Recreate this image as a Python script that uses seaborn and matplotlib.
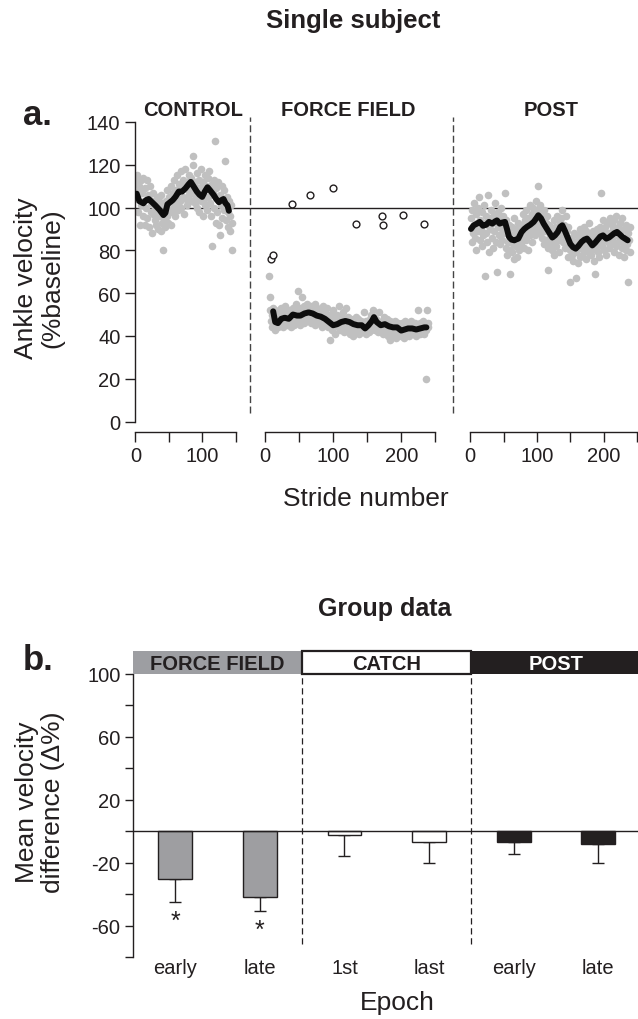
import numpy as np
import pandas as pd
import seaborn as sns
import matplotlib.pyplot as plt
from matplotlib.patches import Rectangle
from matplotlib.transforms import blended_transform_factory

# ---- panel a: single subject, ankle velocity (% baseline) per stride ----
ctrl_gray = [112, 104, 115, 98, 108, 110, 92, 113, 101, 107, 96, 114, 103, 92, 109,
             100, 113, 95, 106, 91, 104, 110, 98, 102, 88, 107, 97, 103, 94, 100,
             92, 105, 99, 90, 103, 96, 101, 89, 106, 93, 98, 80, 95, 101, 91,
             103, 96, 108, 93, 100, 105, 98, 110, 92, 104, 107, 99, 113, 101, 96,
             108, 102, 115, 99, 106, 111, 103, 117, 100, 109, 105, 113, 97, 110, 118,
             104, 112, 101, 108, 115, 106, 110, 103, 114, 107, 120, 124, 109, 102, 112,
             105, 116, 100, 109, 113, 98, 107, 118, 103, 110, 96, 112, 104, 115, 101,
             110, 99, 114, 105, 117, 102, 108, 96, 111, 82, 107, 113, 100, 131, 93,
             109, 98, 104, 112, 92, 106, 87, 101, 110, 95, 103, 99, 108, 122, 94,
             100, 105, 91, 98, 103, 96, 89, 101, 80, 93]
ctrl_start = 1
ctrl_avg_x = [2, 6, 12, 16, 20, 25, 30, 36, 42, 45, 48, 52, 56, 60, 65, 70, 75, 80, 83, 87,
              92, 96, 100, 104, 108, 112, 117, 121, 125, 129, 132, 135, 138, 140]
ctrl_avg_y = [106.5, 103, 102, 103.5, 104, 102.5, 101, 99, 96.5, 97.5, 101.5, 102.5, 103.5, 105,
              107.5, 107.5, 109, 111, 112, 110, 107.5, 106, 105, 107.5, 109.5, 108, 106, 104,
              102.5, 103.5, 104, 102, 101, 98.5]

ff_gray = [68, 58, 52, 47, 44, 50, 53, 45, 48, 43, 51, 46, 49, 44, 52,
           47, 50, 45, 53, 48, 44, 51, 46, 49, 54, 47, 45, 50, 48, 52,
           46, 49, 44, 51, 47, 53, 45, 50, 48, 55, 46, 52, 49, 61, 47,
           51, 45, 53, 58, 48, 50, 46, 54, 49, 52, 47, 55, 50, 48, 53,
           51, 46, 54, 49, 52, 47, 50, 55, 45, 51, 48, 53, 46, 50, 49,
           52, 46, 50, 44, 54, 48, 47, 51, 45, 49, 53, 44, 48, 46, 38,
           50, 45, 47, 43, 52, 46, 49, 41, 48, 45, 50, 44, 47, 54, 43,
           46, 49, 44, 51, 47, 42, 48, 45, 53, 46, 43, 49, 45, 47, 41,
           48, 44, 46, 40, 47, 43, 45, 49, 42, 46, 44, 48, 41, 45, 43,
           47, 42, 46, 44, 51, 43, 45, 41, 47, 44, 46, 42, 45, 48, 43,
           50, 47, 52, 45, 49, 46, 43, 48, 44, 47, 42, 46, 51, 44, 45,
           43, 47, 41, 45, 49, 42, 46, 44, 48, 40, 45, 43, 47, 38, 44,
           42, 46, 40, 45, 43, 47, 39, 44, 42, 46, 41, 45, 43, 40, 44,
           46, 42, 45, 39, 44, 47, 41, 43, 45, 42, 46, 40, 44, 43, 47,
           42, 45, 41, 44, 46, 43, 40, 45, 42, 52, 44, 41, 46, 43, 45,
           42, 47, 44, 41, 45, 43, 20, 52, 44, 46]
ff_start = 6
ff_avg_x = [12, 15, 19, 24, 29, 35, 41, 47, 52, 58, 64, 70, 76, 82, 88, 94, 100, 106, 112, 118,
            124, 130, 136, 142, 147, 152, 157, 160, 164, 170, 176, 182, 188, 194, 200, 205,
            210, 216, 222, 228, 234, 237]
ff_avg_y = [51.5, 46.5, 46, 48, 48.5, 48, 50, 49.5, 49.5, 50.5, 51, 50.5, 49.5, 49, 48, 46.5,
            45, 45.5, 46.5, 47, 46.5, 45.5, 45, 45, 43.5, 45, 47, 48.8, 46.5, 45, 45.5, 44.5,
            44, 44, 42.5, 43, 43.5, 43.5, 43, 43.5, 44, 44]
catch_x = [9, 12, 39, 66, 100, 134, 172, 173, 203, 233]
catch_y = [76, 78, 101.5, 106, 109, 92.5, 96, 91.7, 96.7, 92.5]

post_gray = [95, 84, 99, 88, 102, 91, 86, 97, 80, 93, 89, 100, 105, 85, 94,
             90, 82, 98, 87, 101, 93, 68, 88, 96, 84, 92, 106, 79, 95, 90,
             99, 86, 93, 81, 97, 89, 102, 84, 94, 70, 91, 98, 87, 95, 83,
             100, 90, 85, 96, 92, 88, 107, 81, 94, 78, 89, 84, 92, 80, 69,
             87, 79, 91, 83, 95, 76, 88, 82, 90, 77, 86, 93, 80, 85, 89,
             83, 92, 86, 97, 81, 90, 94, 85, 99, 88, 80, 95, 91, 87, 101,
             89, 97, 84, 100, 92, 98, 87, 103, 95, 90, 99, 110, 93, 88, 101,
             91, 97, 86, 95, 83, 99, 89, 93, 85, 96, 81, 71, 92, 87, 84,
             90, 80, 88, 83, 94, 78, 91, 86, 82, 96, 85, 89, 79, 93, 87,
             95, 88, 99, 84, 92, 87, 81, 96, 83, 89, 77, 91, 85, 80, 65,
             86, 78, 84, 75, 88, 80, 83, 67, 79, 87, 74, 85, 81, 77, 90,
             82, 88, 78, 86, 91, 80, 84, 76, 89, 83, 87, 79, 93, 81, 85,
             78, 86, 80, 89, 75, 84, 69, 88, 82, 90, 79, 85, 77, 91, 83,
             107, 89, 82, 94, 85, 80, 91, 87, 78, 93, 84, 88, 81, 95, 86,
             83, 92, 85, 90, 79, 94, 87, 82, 96, 88, 84, 91, 78, 93, 86,
             89, 81, 95, 84, 77, 90, 86, 80, 92, 83, 88, 65, 85, 79, 91]
post_start = 1
post_avg_x = [1, 5, 10, 14, 19, 24, 28, 33, 37, 40, 44, 48, 52, 55, 58, 62, 66, 72, 77, 81,
              85, 90, 95, 99, 102, 106, 110, 115, 119, 123, 127, 131, 135, 138, 142, 146, 150,
              154, 158, 162, 167, 171, 175, 179, 183, 187, 191, 195, 199, 204, 208, 212, 216,
              220, 224, 228, 232, 236]
post_avg_y = [90, 91.7, 92.5, 93.3, 91.5, 92, 93.3, 92.5, 93.5, 94, 92.5, 93, 93.3, 90, 86.3,
              85, 84.7, 85.5, 88.6, 90, 91, 92, 93.3, 95, 96.4, 95, 92.5, 90, 88, 86, 87, 88.5,
              91, 91.7, 89, 86, 83, 81.5, 80.8, 82, 84, 85, 85.5, 84, 82.3, 83.5, 85, 86.5, 87,
              85.5, 86, 87, 88, 88.6, 87.5, 86.3, 85.5, 84.7]

# ---- panel b: group data ----
bar_ids = ['ff_early', 'ff_late', 'catch_1st', 'catch_last', 'post_early', 'post_late']
bar_labels = ['early', 'late', '1st', 'last', 'early', 'late']
bar_vals = [-30.4, -42, -2.2, -7, -6.6, -8.1]
bar_errs = [14.4, 9, 13.5, 13, 7.9, 11.9]
star_bars = [0, 1]
groups = ['FORCE FIELD', 'CATCH', 'POST']

INK = '#231f20'
GRAY_PT = '#c0c0c0'
FF_GRAY = '#9d9ea2'
bar_colors = [FF_GRAY, FF_GRAY, 'white', 'white', INK, INK]

sns.set_style("ticks")
plt.rcParams['font.family'] = ['Liberation Sans', 'DejaVu Sans']
plt.rcParams['text.color'] = INK
plt.rcParams['axes.edgecolor'] = INK
plt.rcParams['xtick.color'] = INK
plt.rcParams['ytick.color'] = INK
plt.rcParams['axes.linewidth'] = 1.0

W, H = 638, 1020
fig = plt.figure(figsize=(W / 100, H / 100), dpi=100)


def fx(px):
    return px / W


def fy(py):
    return 1 - py / H


# three side-by-side axes for panel a
bot, hgt = fy(422.5), 299.5 / H
ax1 = fig.add_axes([fx(135), bot, fx(115), hgt])
ax2 = fig.add_axes([fx(250), bot, fx(202.5), hgt])
ax3 = fig.add_axes([fx(452.5), bot, fx(185.5), hgt])

phases = [
    (ax1, ctrl_gray, ctrl_start, ctrl_avg_x, ctrl_avg_y, (-0.5, 171.6), [0, 50, 100, 150]),
    (ax2, ff_gray, ff_start, ff_avg_x, ff_avg_y, (-22, 275.3), [0, 50, 100, 150, 200, 250]),
    (ax3, post_gray, post_start, post_avg_x, post_avg_y, (-26.7, 251.5), [0, 50, 100, 150, 200, 250]),
]
for ax, gray, start, avg_x, avg_y, xlim, ticks in phases:
    sns.scatterplot(x=np.arange(start, start + len(gray)), y=gray, color=GRAY_PT,
                    s=30, linewidth=0, ax=ax, zorder=2)
    sns.lineplot(x=avg_x, y=avg_y, color='#0d0d0d', lw=4.3, estimator=None, sort=False,
                 ax=ax, zorder=3, solid_capstyle='round', solid_joinstyle='round')
    ax.axhline(100, color=INK, lw=1, zorder=1)
    ax.set_xlim(*xlim)
    ax.set_ylim(0, 140)
    ax.set_xticks(ticks)
    ax.set_xticklabels([str(t) if t % 100 == 0 else '' for t in ticks])
    ax.set_xlabel('')
    ax.set_ylabel('')
    for s in ['top', 'right']:
        ax.spines[s].set_visible(False)
    ax.spines['bottom'].set_position(('outward', 7.4))
    ax.spines['bottom'].set_bounds(ticks[0], ticks[-1])
    ax.tick_params(axis='x', direction='out', length=7.5, width=1, labelsize=14.5, pad=3)

ax1.set_yticks(range(0, 141, 20))
ax1.spines['left'].set_bounds(0, 140)
ax1.tick_params(axis='y', direction='out', length=7.5, width=1, labelsize=14.5, pad=3)
for ax in (ax2, ax3):
    ax.spines['left'].set_visible(False)
    ax.tick_params(axis='y', left=False, labelleft=False)
    ax.plot([0, 0], [0.028, 1.017], transform=ax.transAxes, color='#444444', lw=1,
            linestyle=(0, (5, 2.5)), clip_on=False)

sns.scatterplot(x=catch_x, y=catch_y, color='white', edgecolor=INK, s=24, linewidth=1,
                ax=ax2, zorder=4)

# panel a texts
fig.text(fx(353), fy(28), 'Single subject', ha='center', va='baseline',
         fontsize=18.5, fontweight='bold')
fig.text(fx(23), fy(125), 'a.', ha='left', va='baseline', fontsize=25, fontweight='bold')
for name, cx in zip(['CONTROL', 'FORCE FIELD', 'POST'], [193, 348, 551]):
    fig.text(fx(cx), fy(115.5), name, ha='center', va='baseline', fontsize=14.5,
             fontweight='bold')
fig.text(fx(39), fy(278), 'Ankle velocity\n(%baseline)', rotation=90, ha='center',
         va='center', multialignment='center', fontsize=19, linespacing=1.15)
fig.text(fx(366), fy(506), 'Stride number', ha='center', va='baseline', fontsize=19)

# ---- panel b ----
axb = fig.add_axes([fx(133), fy(958), fx(505), 283 / H])
df = pd.DataFrame({'epoch': bar_ids, 'diff': bar_vals})
sns.barplot(data=df, x='epoch', y='diff', hue='epoch', order=bar_ids, hue_order=bar_ids,
            palette=dict(zip(bar_ids, bar_colors)), dodge=False, legend=False, width=0.4,
            edgecolor=INK, linewidth=1, errorbar=None, ax=axb, zorder=2)
axb.errorbar(range(len(bar_vals)), bar_vals, yerr=[bar_errs, [0] * len(bar_errs)],
             fmt='none', ecolor=INK, elinewidth=1, capsize=4, capthick=1, zorder=1.5)
for i in star_bars:
    axb.text(i, bar_vals[i] - bar_errs[i] - 16.5, '*', ha='center', va='baseline',
             fontsize=18, color=INK)
axb.axhline(0, color=INK, lw=1, zorder=3)
axb.vlines([1.5, 3.5], -72, 100, colors=INK, linestyles=(0, (5, 3)), lw=0.9, zorder=1)

axb.set_xlim(-0.5, 5.47)
axb.set_ylim(-80, 100)
yt = list(range(-80, 101, 20))
axb.set_yticks(yt)
axb.set_yticklabels([str(v) if (v + 60) % 40 == 0 else '' for v in yt])
axb.set_xticks(range(len(bar_labels)))
axb.set_xticklabels(bar_labels)
axb.set_xlabel('')
axb.set_ylabel('')
for s in ['top', 'right', 'bottom']:
    axb.spines[s].set_visible(False)
axb.spines['left'].set_bounds(-80, 100)
axb.tick_params(axis='y', direction='out', length=6, width=1, labelsize=14.5, pad=3)
axb.tick_params(axis='x', length=0, labelsize=14.5, pad=1)

trans = blended_transform_factory(axb.transData, axb.transAxes)
strip_style = [(FF_GRAY, 'none', INK), ('white', INK, INK), (INK, 'none', 'white')]
for k, (name, (fc, ec, tc)) in enumerate(zip(groups, strip_style)):
    x0 = -0.5 + 2 * k
    axb.add_patch(Rectangle((x0, 1.0), 2, 0.082, transform=trans, facecolor=fc,
                            edgecolor=ec, lw=1.6, clip_on=False, zorder=5))
    axb.text(x0 + 1, 1.016, name, transform=trans, ha='center', va='baseline',
             fontsize=14.5, fontweight='bold', color=tc, zorder=6)

fig.text(fx(385), fy(616), 'Group data', ha='center', va='baseline', fontsize=18,
         fontweight='bold')
fig.text(fx(23), fy(670), 'b.', ha='left', va='baseline', fontsize=25, fontweight='bold')
fig.text(fx(40), fy(802), 'Mean velocity\ndifference (Δ%)', rotation=90, ha='center',
         va='center', multialignment='center', fontsize=19, linespacing=1.15)
fig.text(fx(397), fy(1010), 'Epoch', ha='center', va='baseline', fontsize=19)

fig.savefig('out.png', dpi=100)
